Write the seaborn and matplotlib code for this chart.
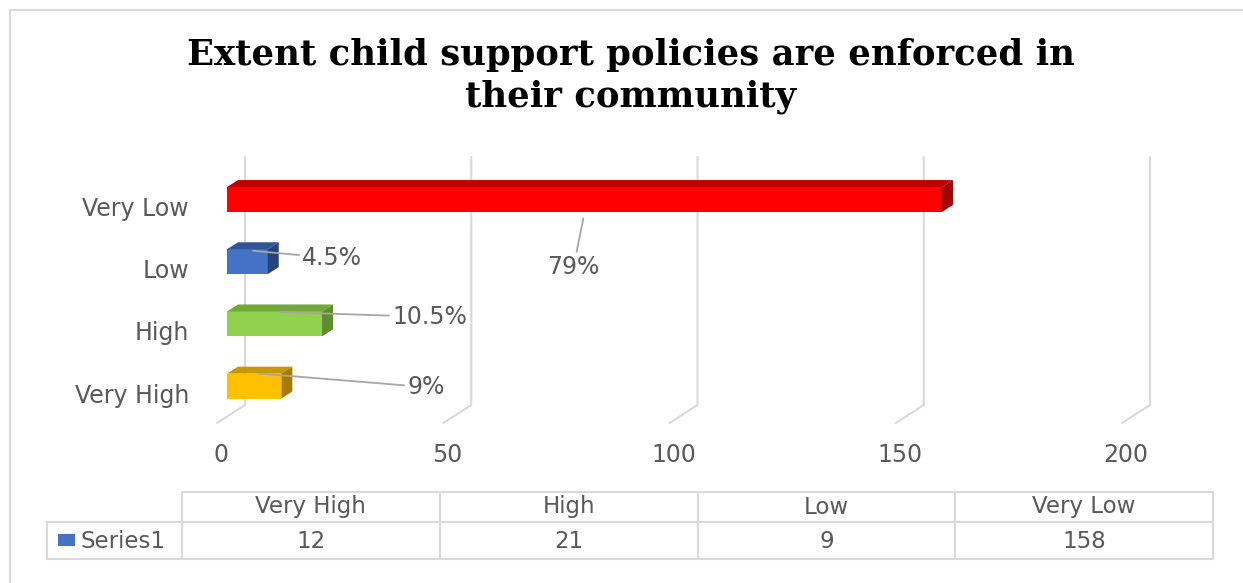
import numpy as np
import pandas as pd
import matplotlib
matplotlib.use("Agg")
import matplotlib.pyplot as plt
import seaborn as sns
from matplotlib.patches import Polygon, Rectangle
from matplotlib.lines import Line2D
from matplotlib.transforms import IdentityTransform, ScaledTranslation, offset_copy

# ---------------- data ----------------
title = "Extent child support policies are enforced in\ntheir community"
categories = ["Very High", "High", "Low", "Very Low"]
counts = [12, 21, 9, 158]
pct_labels = ["9%", "10.5%", "4.5%", "79%"]
bar_colors = ["#FFC000", "#92D050", "#4472C4", "#FF0000"]
top_colors = ["#C99700", "#72A83A", "#2F5597", "#C00000"]
side_colors = ["#A67C00", "#5E8C2E", "#24447A", "#A00000"]
plot_order = ["Very Low", "Low", "High", "Very High"]
xticks = [0, 50, 100, 150, 200]
series_name = "Series1"
series_color = "#4472C4"

# ---------------- layout ----------------
W, H = 1243, 583
sns.set_theme(style="white")
plt.rcParams["font.family"] = ["DejaVu Sans"]
TXT = "#595959"
GRID = "#D9D9D9"
FS = 17

fig = plt.figure(figsize=(W / 100, H / 100), dpi=100)
ax_l, ax_r, ax_t, ax_b = 200, 1180, 150, 430
ax = fig.add_axes([ax_l / W, 1 - ax_b / H, (ax_r - ax_l) / W, (ax_b - ax_t) / H])
ax.set_facecolor("none")

px_per_unit = 4.525
x0_px = 227
row_px = 62.2
y0_px = 199.5

df = pd.DataFrame({"category": categories, "count": counts})
palette = dict(zip(categories, bar_colors))
sns.barplot(data=df, x="count", y="category", order=plot_order, hue="category",
            hue_order=plot_order, palette=palette, width=0.4, legend=False,
            saturation=1, ax=ax, zorder=3, linewidth=0)

ax.set_xlim((ax_l - x0_px) / px_per_unit, (ax_r - x0_px) / px_per_unit)
ax.set_ylim((ax_b - y0_px) / row_px, (ax_t - y0_px) / row_px)
for s in ax.spines.values():
    s.set_visible(False)
ax.grid(False)
ax.set_xlabel("")
ax.set_ylabel("")

def disp(x, y):
    return ax.transData.transform((x, y))

# 3D faces of the bars
off = np.array([11.0, 7.0])
for p in ax.patches:
    w = p.get_width()
    yc = p.get_y() + p.get_height() / 2
    idx = int(round(yc))
    cat = plot_order[idx]
    k = categories.index(cat)
    y_top = p.get_y()
    y_bot = p.get_y() + p.get_height()
    a = disp(0, y_top)
    b = disp(w, y_top)
    c = disp(w, y_bot)
    top = Polygon([a, b, b + off, a + off], closed=True, transform=IdentityTransform(),
                  facecolor=top_colors[k], edgecolor="none", zorder=3, clip_on=False)
    side = Polygon([b, c, c + off, b + off], closed=True, transform=IdentityTransform(),
                   facecolor=side_colors[k], edgecolor="none", zorder=3, clip_on=False)
    ax.add_artist(top)
    ax.add_artist(side)

# back-wall gridlines with floor segments
for t in xticks:
    xp = disp(t, 0)[0]
    xs = [xp + 18, xp + 18, xp - 10]
    ys = [H - 157, H - 405, H - 423]
    ax.add_artist(Line2D(xs, ys, transform=IdentityTransform(), color=GRID, lw=1.5,
                         zorder=1, clip_on=False))

# ticks
ax.set_xticks(xticks)
ax.set_xticklabels([str(t) for t in xticks])
ax.tick_params(axis="x", length=0, pad=9, labelsize=FS, labelcolor=TXT)
ax.tick_params(axis="y", length=0, pad=8, labelsize=FS, labelcolor=TXT)
for lbl in ax.get_xticklabels():
    lbl.set_transform(lbl.get_transform() + ScaledTranslation(-6 / 100, 0, fig.dpi_scale_trans))
for lbl in ax.get_yticklabels():
    lbl.set_transform(lbl.get_transform() + ScaledTranslation(0, -7 / 100, fig.dpi_scale_trans))

# data labels with leader lines
anchor_dy = {"Very Low": -13.5, "Low": 11.5, "High": 12, "Very High": 13}
text_off = {"Very Low": (-11, -54), "Low": (85, -8), "High": (155, -5), "Very High": (172, -14)}
for i, cat in enumerate(plot_order):
    k = categories.index(cat)
    v = counts[k]
    tr = offset_copy(ax.transData, fig=fig, x=0, y=anchor_dy[cat], units="dots")
    ax.annotate(pct_labels[k], xy=(v / 2, i), xycoords=tr, xytext=text_off[cat],
                textcoords="offset pixels", ha="center", va="center", fontsize=FS,
                color=TXT, zorder=5,
                arrowprops=dict(arrowstyle="-", color="#A6A6A6", lw=1.3,
                                shrinkA=0, shrinkB=4))

# title
fig.text(631 / W, 1 - 76 / H, title, ha="center", va="center", fontsize=25.5,
         fontweight="bold", family="DejaVu Serif", color="black", linespacing=1.25)

# chart frame
fig.add_artist(Line2D([9.5, 9.5, W], [0, H - 10, H - 10], transform=IdentityTransform(),
                      color=GRID, lw=1.5))

# data table
col_edges = np.linspace(182, 1213, len(categories) + 1)
y_top, y_mid, y_bot = 492, 522, 559
leg_left = 47
segs = [
    ([col_edges[0], col_edges[-1]], [y_top, y_top]),
    ([leg_left, col_edges[-1]], [y_mid, y_mid]),
    ([leg_left, col_edges[-1]], [y_bot, y_bot]),
    ([leg_left, leg_left], [y_mid, y_bot]),
]
for ce in col_edges:
    segs.append(([ce, ce], [y_top, y_bot]))
for xs, ys in segs:
    fig.add_artist(Line2D(xs, [H - y for y in ys], transform=IdentityTransform(),
                          color=GRID, lw=1.5))
for j, cat in enumerate(categories):
    cx = (col_edges[j] + col_edges[j + 1]) / 2
    fig.text(cx / W, 1 - 507 / H, cat, ha="center", va="center", fontsize=FS - 0.5, color=TXT)
    fig.text(cx / W, 1 - 541 / H, str(counts[j]), ha="center", va="center", fontsize=FS - 0.5, color=TXT)
fig.add_artist(Rectangle((58, H - 546), 17, 12, transform=IdentityTransform(),
                         facecolor=series_color, edgecolor="none"))
fig.text(80 / W, 1 - 541 / H, series_name, ha="left", va="center", fontsize=FS - 0.5, color=TXT)

fig.savefig("out.png", dpi=100)
